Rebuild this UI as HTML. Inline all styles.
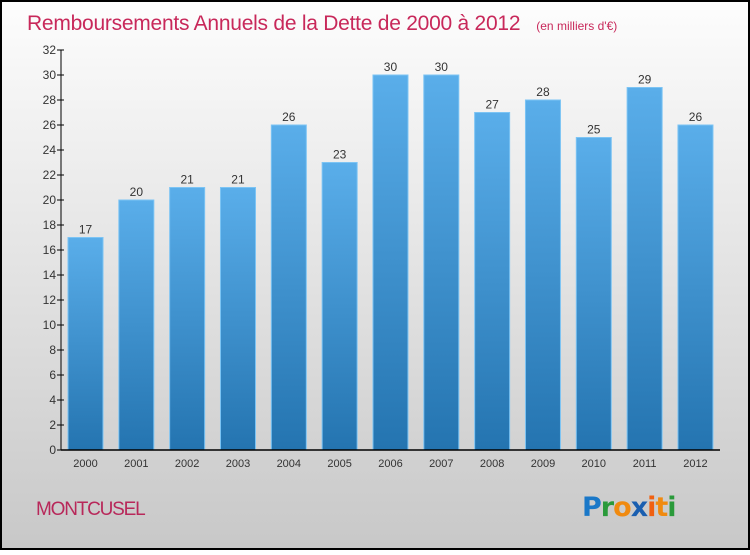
<!DOCTYPE html>
<html><head><meta charset="utf-8"><style>
html,body{margin:0;padding:0}
body{width:750px;height:550px;overflow:hidden;font-family:"Liberation Sans",sans-serif}
</style></head><body>
<svg id="c" width="750" height="550" xmlns="http://www.w3.org/2000/svg">
<defs>
<linearGradient id="bg" x1="0" y1="0" x2="0" y2="1"><stop offset="0" stop-color="#fdfdfd"/><stop offset="1" stop-color="#c8c8c8"/></linearGradient>
<linearGradient id="bar" x1="0" y1="0" x2="0" y2="1"><stop offset="0" stop-color="#5aaeea"/><stop offset="1" stop-color="#2474b0"/></linearGradient>
</defs>
<rect x="1" y="1" width="748" height="548" fill="url(#bg)" stroke="#000" stroke-width="2"/>
<text x="27" y="30" font-size="21" fill="#c8285a" style="letter-spacing:-0.25px">Remboursements Annuels de la Dette de 2000 à 2012<tspan font-size="12" dx="16" style="letter-spacing:0px">(en milliers d'€)</tspan></text>
<g id="grid"></g>
<g id="bars"></g>
<g id="axes"></g>
<text x="36" y="515" font-size="19" fill="#b8285a" style="letter-spacing:-1.2px">MONTCUSEL</text>
<text x="582" y="516" font-size="27" font-weight="bold" font-family="'DejaVu Sans',sans-serif" style="letter-spacing:-1px"><tspan fill="#1a78c8">P</tspan><tspan fill="#2a9a3a">r</tspan><tspan fill="#f08a10">o</tspan><tspan fill="#1a5fb0">x</tspan><tspan fill="#f06010">i</tspan><tspan fill="#f08a10">t</tspan><tspan fill="#2a9a3a">i</tspan></text>
</svg>
<script>
const categories=["2000","2001","2002","2003","2004","2005","2006","2007","2008","2009","2010","2011","2012"];
const values=[17,20,21,21,26,23,30,30,27,28,25,29,26];
const yTicks=[0,2,4,6,8,10,12,14,16,18,20,22,24,26,28,30,32];
const NS="http://www.w3.org/2000/svg";
const x0=61,x1=720,y0=450,yTop=50,yMax=32;
const y=v=>y0-(v/yMax)*(y0-yTop);
const step=50.83,bw=35,first=68;
const xb=i=>first+i*step;
function mk(t,a,p){const e=document.createElementNS(NS,t);for(const k in a)e.setAttribute(k,a[k]);p.appendChild(e);return e;}
const bars=document.getElementById('bars'),axes=document.getElementById('axes');
values.forEach((v,i)=>{
 const r=mk('rect',{x:xb(i),y:y(v),width:bw,height:y0-y(v),fill:'url(#bar)',stroke:'#7cc4f4','stroke-width':1},bars);
 
 
 const t=mk('text',{x:xb(i)+bw/2,y:y(v)-4,'font-size':12,'text-anchor':'middle',fill:'#333'},bars);
 t.textContent=v;
 
 
 const c=mk('text',{x:xb(i)+bw/2,y:467,'font-size':11,'text-anchor':'middle',fill:'#333'},axes);
 c.textContent=categories[i];
 
 
});
const ya=mk('line',{x1:x0,y1:yTop,x2:x0,y2:y0,stroke:'#000','stroke-width':1},axes);


const xa=mk('line',{x1:x0,y1:y0,x2:x1,y2:y0,stroke:'#000','stroke-width':1.5},axes);


yTicks.forEach(v=>{
 mk('line',{x1:x0-4,y1:y(v),x2:x0+3,y2:y(v),stroke:'#000'},axes);
 const t=mk('text',{x:x0-5,y:y(v)+4,'font-size':12,'text-anchor':'end',fill:'#333'},axes);
 t.textContent=v;
 
 
});
</script>
</body></html>
